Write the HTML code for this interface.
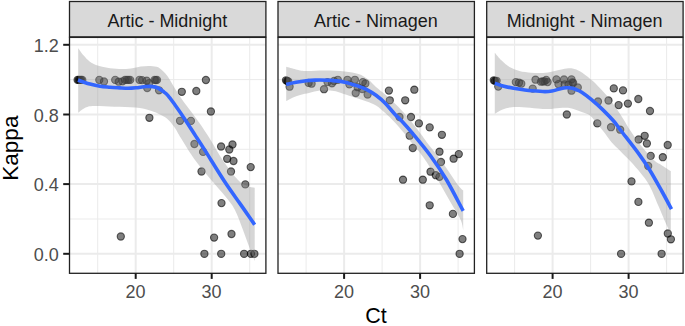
<!DOCTYPE html>
<html><head><meta charset="utf-8"><title>Kappa vs Ct</title>
<style>
html,body{margin:0;padding:0;background:#fff}
svg{display:block}
text{font-family:"Liberation Sans",sans-serif}
</style></head><body>
<svg width="685" height="326" viewBox="0 0 685 326">
<rect width="685" height="326" fill="#fff"/>
<g>
<line x1="69.5" x2="265.9" y1="219.0" y2="219.0" stroke="#ebebeb" stroke-width="1.0"/>
<line x1="69.5" x2="265.9" y1="149.3" y2="149.3" stroke="#ebebeb" stroke-width="1.0"/>
<line x1="69.5" x2="265.9" y1="79.6" y2="79.6" stroke="#ebebeb" stroke-width="1.0"/>
<line x1="97.7" x2="97.7" y1="37.4" y2="273.3" stroke="#ebebeb" stroke-width="1.0"/>
<line x1="173.7" x2="173.7" y1="37.4" y2="273.3" stroke="#ebebeb" stroke-width="1.0"/>
<line x1="249.7" x2="249.7" y1="37.4" y2="273.3" stroke="#ebebeb" stroke-width="1.0"/>
<line x1="69.5" x2="265.9" y1="253.8" y2="253.8" stroke="#ebebeb" stroke-width="2.0"/>
<line x1="69.5" x2="265.9" y1="184.1" y2="184.1" stroke="#ebebeb" stroke-width="2.0"/>
<line x1="69.5" x2="265.9" y1="114.5" y2="114.5" stroke="#ebebeb" stroke-width="2.0"/>
<line x1="69.5" x2="265.9" y1="44.8" y2="44.8" stroke="#ebebeb" stroke-width="2.0"/>
<line x1="135.7" x2="135.7" y1="37.4" y2="273.3" stroke="#ebebeb" stroke-width="2.0"/>
<line x1="211.7" x2="211.7" y1="37.4" y2="273.3" stroke="#ebebeb" stroke-width="2.0"/>
<g fill="#000" fill-opacity="0.5" stroke="#000" stroke-opacity="0.6" stroke-width="1.1">
<circle cx="77.6" cy="79.9" r="3.6"/>
<circle cx="78.8" cy="79.9" r="3.6"/>
<circle cx="80.0" cy="79.9" r="3.6"/>
<circle cx="81.2" cy="79.9" r="3.6"/>
<circle cx="82.3" cy="79.9" r="3.6"/>
<circle cx="99.3" cy="79.9" r="3.6"/>
<circle cx="104.0" cy="81.5" r="3.6"/>
<circle cx="115.2" cy="79.9" r="3.6"/>
<circle cx="118.7" cy="81.7" r="3.6"/>
<circle cx="122.5" cy="81.3" r="3.6"/>
<circle cx="125.0" cy="79.9" r="3.6"/>
<circle cx="126.8" cy="79.9" r="3.6"/>
<circle cx="128.5" cy="79.9" r="3.6"/>
<circle cx="130.2" cy="79.9" r="3.6"/>
<circle cx="139.5" cy="79.9" r="3.6"/>
<circle cx="142.1" cy="80.1" r="3.6"/>
<circle cx="146.7" cy="80.7" r="3.6"/>
<circle cx="147.2" cy="88.0" r="3.6"/>
<circle cx="149.2" cy="83.1" r="3.6"/>
<circle cx="154.6" cy="79.9" r="3.6"/>
<circle cx="155.8" cy="80.1" r="3.6"/>
<circle cx="157.0" cy="79.9" r="3.6"/>
<circle cx="159.0" cy="90.3" r="3.6"/>
<circle cx="149.4" cy="117.8" r="3.6"/>
<circle cx="181.8" cy="91.8" r="3.6"/>
<circle cx="196.3" cy="91.0" r="3.6"/>
<circle cx="205.9" cy="80.0" r="3.6"/>
<circle cx="210.9" cy="111.5" r="3.6"/>
<circle cx="180.0" cy="120.8" r="3.6"/>
<circle cx="190.9" cy="120.9" r="3.6"/>
<circle cx="194.4" cy="144.0" r="3.6"/>
<circle cx="203.1" cy="151.9" r="3.6"/>
<circle cx="221.1" cy="146.5" r="3.6"/>
<circle cx="232.5" cy="144.5" r="3.6"/>
<circle cx="229.3" cy="149.5" r="3.6"/>
<circle cx="227.2" cy="158.8" r="3.6"/>
<circle cx="233.5" cy="161.0" r="3.6"/>
<circle cx="250.7" cy="167.1" r="3.6"/>
<circle cx="201.5" cy="171.5" r="3.6"/>
<circle cx="231.0" cy="171.5" r="3.6"/>
<circle cx="245.3" cy="184.4" r="3.6"/>
<circle cx="221.5" cy="203.1" r="3.6"/>
<circle cx="231.5" cy="234.0" r="3.6"/>
<circle cx="214.1" cy="237.6" r="3.6"/>
<circle cx="204.4" cy="253.8" r="3.6"/>
<circle cx="221.2" cy="253.8" r="3.6"/>
<circle cx="244.1" cy="253.8" r="3.6"/>
<circle cx="250.9" cy="253.8" r="3.6"/>
<circle cx="254.4" cy="253.8" r="3.6"/>
<circle cx="120.8" cy="236.5" r="3.6"/>
</g>
<path d="M78.2 48.2 C79.1 49.4 81.8 53.4 83.7 55.6 C85.6 57.8 87.3 59.9 89.6 61.5 C91.9 63.1 94.5 64.5 97.5 65.5 C100.5 66.5 103.7 67.2 107.3 67.8 C110.9 68.4 115.2 68.9 119.1 69.0 C123.0 69.1 127.3 68.8 130.9 68.4 C134.5 68.0 137.8 66.9 140.7 66.5 C143.6 66.1 146.0 65.9 148.6 65.9 C151.2 66.0 154.5 66.3 156.4 66.8 C158.3 67.2 158.2 67.1 160.0 68.6 C161.8 70.1 164.8 72.5 167.4 76.0 C170.0 79.5 172.8 85.1 175.5 89.4 C178.2 93.7 180.8 97.8 183.6 101.7 C186.3 105.6 189.3 109.1 192.0 112.8 C194.7 116.5 196.9 119.3 200.0 123.8 C203.1 128.3 206.6 133.6 210.6 140.0 C214.6 146.4 219.4 155.3 224.0 162.0 C228.6 168.7 234.2 176.0 238.0 180.0 C241.8 184.0 244.2 184.7 247.0 186.0 C249.8 187.3 253.4 187.5 254.7 187.8 L254.7 260.9 C253.8 258.7 251.3 252.8 249.4 247.6 C247.5 242.4 245.4 236.4 243.0 230.0 C240.6 223.6 237.7 215.1 234.7 209.4 C231.7 203.7 228.9 200.9 225.0 196.0 C221.1 191.1 216.2 186.0 211.2 180.0 C206.2 174.0 200.1 167.0 195.0 160.0 C189.9 153.0 184.3 143.4 180.9 138.0 C177.5 132.6 176.9 130.7 174.7 127.5 C172.4 124.3 169.8 121.2 167.4 119.0 C165.0 116.8 162.8 115.9 160.0 114.5 C157.2 113.1 155.0 111.9 150.9 110.7 C146.8 109.5 141.7 108.3 135.5 107.6 C129.3 106.9 121.2 107.0 114.0 106.7 C106.8 106.5 97.6 105.8 92.6 106.1 C87.6 106.4 86.4 107.4 84.0 108.5 C81.6 109.6 79.2 112.1 78.2 112.8 Z" fill="#999" fill-opacity="0.4"/>
<path d="M78.0 80.0 C79.0 80.4 82.0 81.5 84.0 82.2 C86.0 82.9 87.3 83.4 90.0 84.1 C92.7 84.8 96.7 85.7 100.0 86.2 C103.3 86.7 106.7 86.9 110.0 87.2 C113.3 87.5 117.0 87.7 120.0 87.9 C123.0 88.1 125.3 88.3 128.0 88.3 C130.7 88.3 133.0 88.1 136.0 87.8 C139.0 87.5 143.2 86.7 146.0 86.5 C148.8 86.3 151.0 86.3 153.0 86.6 C155.0 86.8 156.3 87.2 158.0 88.0 C159.7 88.8 161.3 90.0 163.0 91.3 C164.7 92.6 166.0 93.3 168.0 95.6 C170.0 97.9 172.3 101.2 175.2 105.2 C178.1 109.2 181.9 114.8 185.3 119.9 C188.7 125.0 192.0 130.3 195.4 135.6 C198.8 140.8 200.8 143.8 205.6 151.4 C210.4 159.0 218.7 172.6 224.4 181.3 C230.1 190.0 234.9 196.4 240.0 203.6 C245.1 210.8 252.2 221.2 254.7 224.7" fill="none" stroke="#3366ff" stroke-width="3.6" stroke-linejoin="round"/>
<rect x="69.5" y="1.5" width="196.4" height="35.4" fill="#d9d9d9" stroke="#222" stroke-width="1.3"/>
<text transform="translate(167.4,27.0) scale(1,1.06)" font-size="18" fill="#1a1a1a" text-anchor="middle">Artic - Midnight</text>
<rect x="69.5" y="37.4" width="196.4" height="235.9" fill="none" stroke="#222" stroke-width="1.3"/>
<line x1="135.7" x2="135.7" y1="273.3" y2="278.9" stroke="#1a1a1a" stroke-width="2.0"/>
<text transform="translate(135.5,297.9) scale(1,1.06)" font-size="18" fill="#4d4d4d" text-anchor="middle">20</text>
<line x1="211.7" x2="211.7" y1="273.3" y2="278.9" stroke="#1a1a1a" stroke-width="2.0"/>
<text transform="translate(211.5,297.9) scale(1,1.06)" font-size="18" fill="#4d4d4d" text-anchor="middle">30</text>
</g>
<g>
<line x1="278.0" x2="474.4" y1="219.0" y2="219.0" stroke="#ebebeb" stroke-width="1.0"/>
<line x1="278.0" x2="474.4" y1="149.3" y2="149.3" stroke="#ebebeb" stroke-width="1.0"/>
<line x1="278.0" x2="474.4" y1="79.6" y2="79.6" stroke="#ebebeb" stroke-width="1.0"/>
<line x1="306.1" x2="306.1" y1="37.4" y2="273.3" stroke="#ebebeb" stroke-width="1.0"/>
<line x1="382.1" x2="382.1" y1="37.4" y2="273.3" stroke="#ebebeb" stroke-width="1.0"/>
<line x1="458.1" x2="458.1" y1="37.4" y2="273.3" stroke="#ebebeb" stroke-width="1.0"/>
<line x1="278.0" x2="474.4" y1="253.8" y2="253.8" stroke="#ebebeb" stroke-width="2.0"/>
<line x1="278.0" x2="474.4" y1="184.1" y2="184.1" stroke="#ebebeb" stroke-width="2.0"/>
<line x1="278.0" x2="474.4" y1="114.5" y2="114.5" stroke="#ebebeb" stroke-width="2.0"/>
<line x1="278.0" x2="474.4" y1="44.8" y2="44.8" stroke="#ebebeb" stroke-width="2.0"/>
<line x1="344.1" x2="344.1" y1="37.4" y2="273.3" stroke="#ebebeb" stroke-width="2.0"/>
<line x1="420.1" x2="420.1" y1="37.4" y2="273.3" stroke="#ebebeb" stroke-width="2.0"/>
<g fill="#000" fill-opacity="0.5" stroke="#000" stroke-opacity="0.6" stroke-width="1.1">
<circle cx="286.0" cy="80.3" r="3.6"/>
<circle cx="287.2" cy="80.9" r="3.6"/>
<circle cx="288.2" cy="81.3" r="3.6"/>
<circle cx="289.6" cy="86.7" r="3.6"/>
<circle cx="308.6" cy="82.9" r="3.6"/>
<circle cx="311.6" cy="83.7" r="3.6"/>
<circle cx="324.0" cy="89.2" r="3.6"/>
<circle cx="327.5" cy="82.1" r="3.6"/>
<circle cx="332.0" cy="83.3" r="3.6"/>
<circle cx="334.0" cy="81.0" r="3.6"/>
<circle cx="337.8" cy="79.8" r="3.6"/>
<circle cx="347.4" cy="79.8" r="3.6"/>
<circle cx="354.9" cy="79.8" r="3.6"/>
<circle cx="349.4" cy="84.4" r="3.6"/>
<circle cx="357.6" cy="87.2" r="3.6"/>
<circle cx="362.8" cy="82.1" r="3.6"/>
<circle cx="365.4" cy="83.5" r="3.6"/>
<circle cx="362.2" cy="89.0" r="3.6"/>
<circle cx="355.7" cy="93.0" r="3.6"/>
<circle cx="367.6" cy="94.5" r="3.6"/>
<circle cx="388.9" cy="90.6" r="3.6"/>
<circle cx="414.3" cy="89.7" r="3.6"/>
<circle cx="389.8" cy="100.3" r="3.6"/>
<circle cx="405.2" cy="100.3" r="3.6"/>
<circle cx="399.5" cy="117.0" r="3.6"/>
<circle cx="411.0" cy="117.0" r="3.6"/>
<circle cx="418.9" cy="123.4" r="3.6"/>
<circle cx="429.7" cy="127.4" r="3.6"/>
<circle cx="441.9" cy="134.8" r="3.6"/>
<circle cx="409.7" cy="135.7" r="3.6"/>
<circle cx="412.8" cy="148.0" r="3.6"/>
<circle cx="439.5" cy="151.7" r="3.6"/>
<circle cx="458.8" cy="154.1" r="3.6"/>
<circle cx="453.6" cy="158.7" r="3.6"/>
<circle cx="441.0" cy="162.0" r="3.6"/>
<circle cx="430.5" cy="171.7" r="3.6"/>
<circle cx="435.8" cy="175.2" r="3.6"/>
<circle cx="439.5" cy="176.8" r="3.6"/>
<circle cx="403.0" cy="179.7" r="3.6"/>
<circle cx="422.8" cy="179.7" r="3.6"/>
<circle cx="429.7" cy="205.3" r="3.6"/>
<circle cx="452.9" cy="213.9" r="3.6"/>
<circle cx="462.5" cy="239.1" r="3.6"/>
<circle cx="459.6" cy="253.8" r="3.6"/>
</g>
<path d="M286.2 66.8 C287.8 67.2 292.8 68.7 296.0 69.4 C299.2 70.1 300.7 70.8 305.5 71.0 C310.3 71.2 318.4 70.5 325.0 70.6 C331.6 70.7 339.2 70.8 344.8 71.4 C350.4 72.0 354.6 72.7 358.5 74.0 C362.4 75.3 365.4 77.3 368.3 79.5 C371.2 81.7 373.2 84.5 376.0 87.0 C378.8 89.5 382.1 91.8 385.2 94.5 C388.3 97.2 391.3 100.0 394.4 103.0 C397.5 106.0 400.5 109.1 403.6 112.5 C406.7 115.9 409.7 119.7 412.8 123.5 C415.9 127.3 419.4 132.0 422.0 135.5 C424.6 139.0 425.9 141.2 428.5 144.5 C431.1 147.8 433.9 151.0 437.3 155.5 C440.7 160.0 445.4 166.7 448.7 171.4 C452.0 176.1 454.7 180.7 457.1 183.9 C459.5 187.1 462.2 189.5 463.2 190.6 L463.2 230.0 C462.8 228.2 462.6 224.2 460.5 219.5 C458.4 214.8 454.3 208.8 450.4 202.0 C446.5 195.2 441.4 185.9 436.9 178.5 C432.4 171.1 427.8 163.6 423.5 157.5 C419.2 151.4 414.3 146.2 411.0 142.0 C407.7 137.8 406.4 135.8 403.6 132.5 C400.8 129.2 397.5 125.2 394.4 122.0 C391.3 118.8 388.3 115.8 385.2 113.0 C382.1 110.2 379.1 107.4 376.0 105.5 C372.9 103.6 369.8 102.7 366.8 101.5 C363.8 100.3 361.1 99.5 358.0 98.5 C354.9 97.5 351.7 96.6 348.4 95.5 C345.1 94.4 341.1 92.8 338.0 92.0 C334.9 91.2 333.0 90.8 330.0 90.6 C327.0 90.4 323.5 90.2 320.0 90.6 C316.5 91.0 312.2 92.3 309.0 93.0 C305.8 93.7 303.7 94.0 301.0 94.8 C298.3 95.5 295.5 96.5 293.0 97.5 C290.5 98.5 287.3 100.5 286.2 101.1 Z" fill="#999" fill-opacity="0.4"/>
<path d="M286.2 84.4 C287.8 84.0 292.7 82.8 296.0 82.2 C299.3 81.6 302.8 81.2 306.0 80.8 C309.2 80.4 311.1 80.2 315.3 80.1 C319.5 80.0 326.1 80.1 331.0 80.4 C335.9 80.8 340.2 81.2 344.8 82.2 C349.4 83.2 354.8 85.0 358.5 86.2 C362.2 87.4 363.9 88.1 366.8 89.6 C369.7 91.1 372.9 93.0 376.0 95.3 C379.1 97.6 382.1 100.1 385.2 103.2 C388.3 106.3 391.6 110.7 394.4 113.7 C397.1 116.7 398.6 117.7 401.7 121.0 C404.8 124.3 407.9 127.7 412.8 133.7 C417.7 139.6 425.6 149.0 431.2 156.7 C436.8 164.4 441.3 171.0 446.6 180.0 C451.9 189.0 460.4 205.8 463.2 210.9" fill="none" stroke="#3366ff" stroke-width="3.6" stroke-linejoin="round"/>
<rect x="278.0" y="1.5" width="196.4" height="35.4" fill="#d9d9d9" stroke="#222" stroke-width="1.3"/>
<text transform="translate(375.9,27.0) scale(1,1.06)" font-size="18" fill="#1a1a1a" text-anchor="middle">Artic - Nimagen</text>
<rect x="278.0" y="37.4" width="196.4" height="235.9" fill="none" stroke="#222" stroke-width="1.3"/>
<line x1="344.1" x2="344.1" y1="273.3" y2="278.9" stroke="#1a1a1a" stroke-width="2.0"/>
<text transform="translate(343.9,297.9) scale(1,1.06)" font-size="18" fill="#4d4d4d" text-anchor="middle">20</text>
<line x1="420.1" x2="420.1" y1="273.3" y2="278.9" stroke="#1a1a1a" stroke-width="2.0"/>
<text transform="translate(419.9,297.9) scale(1,1.06)" font-size="18" fill="#4d4d4d" text-anchor="middle">30</text>
</g>
<g>
<line x1="486.7" x2="683.1" y1="219.0" y2="219.0" stroke="#ebebeb" stroke-width="1.0"/>
<line x1="486.7" x2="683.1" y1="149.3" y2="149.3" stroke="#ebebeb" stroke-width="1.0"/>
<line x1="486.7" x2="683.1" y1="79.6" y2="79.6" stroke="#ebebeb" stroke-width="1.0"/>
<line x1="514.6" x2="514.6" y1="37.4" y2="273.3" stroke="#ebebeb" stroke-width="1.0"/>
<line x1="590.6" x2="590.6" y1="37.4" y2="273.3" stroke="#ebebeb" stroke-width="1.0"/>
<line x1="666.6" x2="666.6" y1="37.4" y2="273.3" stroke="#ebebeb" stroke-width="1.0"/>
<line x1="486.7" x2="683.1" y1="253.8" y2="253.8" stroke="#ebebeb" stroke-width="2.0"/>
<line x1="486.7" x2="683.1" y1="184.1" y2="184.1" stroke="#ebebeb" stroke-width="2.0"/>
<line x1="486.7" x2="683.1" y1="114.5" y2="114.5" stroke="#ebebeb" stroke-width="2.0"/>
<line x1="486.7" x2="683.1" y1="44.8" y2="44.8" stroke="#ebebeb" stroke-width="2.0"/>
<line x1="552.6" x2="552.6" y1="37.4" y2="273.3" stroke="#ebebeb" stroke-width="2.0"/>
<line x1="628.6" x2="628.6" y1="37.4" y2="273.3" stroke="#ebebeb" stroke-width="2.0"/>
<g fill="#000" fill-opacity="0.5" stroke="#000" stroke-opacity="0.6" stroke-width="1.1">
<circle cx="493.8" cy="80.3" r="3.6"/>
<circle cx="495.0" cy="80.8" r="3.6"/>
<circle cx="496.6" cy="80.8" r="3.6"/>
<circle cx="498.3" cy="86.6" r="3.6"/>
<circle cx="515.8" cy="82.1" r="3.6"/>
<circle cx="519.0" cy="82.7" r="3.6"/>
<circle cx="521.3" cy="83.7" r="3.6"/>
<circle cx="532.7" cy="88.6" r="3.6"/>
<circle cx="535.5" cy="79.7" r="3.6"/>
<circle cx="541.0" cy="81.7" r="3.6"/>
<circle cx="542.8" cy="81.5" r="3.6"/>
<circle cx="544.4" cy="81.3" r="3.6"/>
<circle cx="546.2" cy="79.9" r="3.6"/>
<circle cx="547.6" cy="82.1" r="3.6"/>
<circle cx="556.4" cy="79.4" r="3.6"/>
<circle cx="558.4" cy="84.1" r="3.6"/>
<circle cx="564.0" cy="79.5" r="3.6"/>
<circle cx="564.7" cy="84.3" r="3.6"/>
<circle cx="571.5" cy="79.4" r="3.6"/>
<circle cx="573.2" cy="83.0" r="3.6"/>
<circle cx="572.4" cy="82.3" r="3.6"/>
<circle cx="568.5" cy="84.6" r="3.6"/>
<circle cx="577.8" cy="87.5" r="3.6"/>
<circle cx="571.5" cy="90.7" r="3.6"/>
<circle cx="566.8" cy="114.5" r="3.6"/>
<circle cx="598.0" cy="101.5" r="3.6"/>
<circle cx="597.3" cy="123.4" r="3.6"/>
<circle cx="613.8" cy="88.4" r="3.6"/>
<circle cx="623.0" cy="90.4" r="3.6"/>
<circle cx="638.3" cy="99.0" r="3.6"/>
<circle cx="608.5" cy="100.5" r="3.6"/>
<circle cx="618.6" cy="105.1" r="3.6"/>
<circle cx="627.9" cy="103.6" r="3.6"/>
<circle cx="650.0" cy="111.0" r="3.6"/>
<circle cx="611.0" cy="127.2" r="3.6"/>
<circle cx="620.2" cy="129.7" r="3.6"/>
<circle cx="644.7" cy="135.8" r="3.6"/>
<circle cx="638.6" cy="139.5" r="3.6"/>
<circle cx="646.9" cy="143.5" r="3.6"/>
<circle cx="667.7" cy="145.0" r="3.6"/>
<circle cx="650.7" cy="155.9" r="3.6"/>
<circle cx="662.8" cy="157.2" r="3.6"/>
<circle cx="648.2" cy="166.0" r="3.6"/>
<circle cx="631.5" cy="181.4" r="3.6"/>
<circle cx="638.4" cy="201.9" r="3.6"/>
<circle cx="648.9" cy="222.7" r="3.6"/>
<circle cx="667.8" cy="233.5" r="3.6"/>
<circle cx="670.9" cy="239.3" r="3.6"/>
<circle cx="621.1" cy="253.8" r="3.6"/>
<circle cx="661.6" cy="253.8" r="3.6"/>
<circle cx="537.9" cy="235.6" r="3.6"/>
</g>
<path d="M494.8 52.7 C495.9 54.0 499.2 58.2 501.7 60.6 C504.1 63.0 506.6 65.3 509.5 67.0 C512.5 68.7 515.8 70.0 519.4 71.0 C523.0 72.0 527.3 72.4 531.2 72.7 C535.1 73.0 539.3 73.1 542.9 72.9 C546.5 72.7 549.5 72.0 552.8 71.4 C556.1 70.8 559.3 69.7 562.6 69.2 C565.9 68.7 569.5 68.0 572.4 68.4 C575.3 68.8 577.4 69.9 580.3 71.6 C583.2 73.3 587.5 76.7 589.7 78.4 C591.9 80.1 591.8 80.0 593.7 81.8 C595.6 83.6 598.5 86.6 601.0 89.2 C603.5 91.8 605.9 94.4 608.4 97.5 C610.9 100.6 613.3 104.1 615.8 107.6 C618.2 111.1 620.7 114.9 623.1 118.7 C625.5 122.5 627.4 126.2 630.3 130.5 C633.1 134.8 636.3 139.6 640.2 144.5 C644.1 149.4 650.3 156.6 653.8 160.0 C657.3 163.4 658.4 163.1 661.2 164.9 C664.0 166.7 669.2 170.0 670.8 171.0 L670.8 232.5 C670.4 231.9 669.5 230.9 668.5 229.0 C667.5 227.1 666.5 225.0 664.9 221.3 C663.3 217.6 661.0 211.9 658.7 206.6 C656.5 201.3 653.5 193.8 651.4 189.4 C649.3 185.0 647.9 182.8 646.0 180.0 C644.1 177.2 642.9 175.7 640.2 172.5 C637.6 169.3 633.5 164.6 630.1 161.0 C626.7 157.4 623.0 153.8 620.0 150.7 C617.0 147.6 614.5 145.6 612.0 142.7 C609.5 139.8 607.1 136.1 604.7 133.0 C602.3 129.9 599.9 127.1 597.4 124.2 C594.9 121.3 592.6 117.5 590.0 115.5 C587.4 113.5 584.9 113.2 581.7 112.0 C578.5 110.8 574.4 109.0 570.7 108.3 C567.0 107.6 563.3 107.9 559.6 108.0 C555.9 108.1 552.3 109.0 548.6 109.1 C544.9 109.2 541.8 108.8 537.5 108.5 C533.2 108.2 527.1 107.4 522.8 107.2 C518.5 107.0 515.2 106.8 511.8 107.2 C508.4 107.6 505.4 108.3 502.6 109.4 C499.8 110.5 496.1 113.0 494.8 113.7 Z" fill="#999" fill-opacity="0.4"/>
<path d="M494.8 83.2 C496.2 83.7 499.9 85.2 503.0 86.0 C506.1 86.8 510.2 87.7 513.6 88.3 C517.0 88.9 520.2 89.4 523.3 89.8 C526.4 90.2 528.4 90.5 532.0 90.8 C535.6 91.1 541.6 91.6 544.9 91.6 C548.2 91.6 549.5 91.4 552.0 91.0 C554.5 90.6 557.3 89.5 559.6 89.0 C561.9 88.5 564.0 88.0 566.0 87.8 C568.0 87.6 569.6 87.7 571.3 88.0 C573.0 88.3 574.3 88.8 576.0 89.5 C577.7 90.2 579.1 90.6 581.7 92.3 C584.3 94.0 588.0 96.8 591.5 99.7 C595.0 102.6 598.7 105.9 602.4 109.4 C606.1 113.0 610.5 117.5 613.6 121.0 C616.7 124.5 616.5 124.9 620.8 130.5 C625.1 136.1 634.3 147.7 639.2 154.4 C644.1 161.1 646.2 164.3 650.0 170.5 C653.8 176.7 658.4 185.1 662.0 191.5 C665.6 197.9 669.9 206.2 671.5 209.1" fill="none" stroke="#3366ff" stroke-width="3.6" stroke-linejoin="round"/>
<rect x="486.7" y="1.5" width="196.4" height="35.4" fill="#d9d9d9" stroke="#222" stroke-width="1.3"/>
<text transform="translate(584.6,27.0) scale(1,1.06)" font-size="18" fill="#1a1a1a" text-anchor="middle">Midnight - Nimagen</text>
<rect x="486.7" y="37.4" width="196.4" height="235.9" fill="none" stroke="#222" stroke-width="1.3"/>
<line x1="552.6" x2="552.6" y1="273.3" y2="278.9" stroke="#1a1a1a" stroke-width="2.0"/>
<text transform="translate(552.4,297.9) scale(1,1.06)" font-size="18" fill="#4d4d4d" text-anchor="middle">20</text>
<line x1="628.6" x2="628.6" y1="273.3" y2="278.9" stroke="#1a1a1a" stroke-width="2.0"/>
<text transform="translate(628.4,297.9) scale(1,1.06)" font-size="18" fill="#4d4d4d" text-anchor="middle">30</text>
</g>
<line x1="63.2" x2="69.5" y1="253.8" y2="253.8" stroke="#1a1a1a" stroke-width="2.0"/>
<text transform="translate(58.8,261.1) scale(1,1.06)" font-size="18" fill="#4d4d4d" text-anchor="end">0.0</text>
<line x1="63.2" x2="69.5" y1="184.1" y2="184.1" stroke="#1a1a1a" stroke-width="2.0"/>
<text transform="translate(58.8,191.4) scale(1,1.06)" font-size="18" fill="#4d4d4d" text-anchor="end">0.4</text>
<line x1="63.2" x2="69.5" y1="114.5" y2="114.5" stroke="#1a1a1a" stroke-width="2.0"/>
<text transform="translate(58.8,121.8) scale(1,1.06)" font-size="18" fill="#4d4d4d" text-anchor="end">0.8</text>
<line x1="63.2" x2="69.5" y1="44.8" y2="44.8" stroke="#1a1a1a" stroke-width="2.0"/>
<text transform="translate(58.8,52.1) scale(1,1.06)" font-size="18" fill="#4d4d4d" text-anchor="end">1.2</text>
<text transform="translate(375.9,323.4) scale(1,1.02)" font-size="21.5" fill="#000" text-anchor="middle">Ct</text>
<text transform="translate(17.6,148.2) rotate(-90) scale(1,0.97)" font-size="22.6" fill="#000" text-anchor="middle">Kappa</text>
</svg></body></html>
